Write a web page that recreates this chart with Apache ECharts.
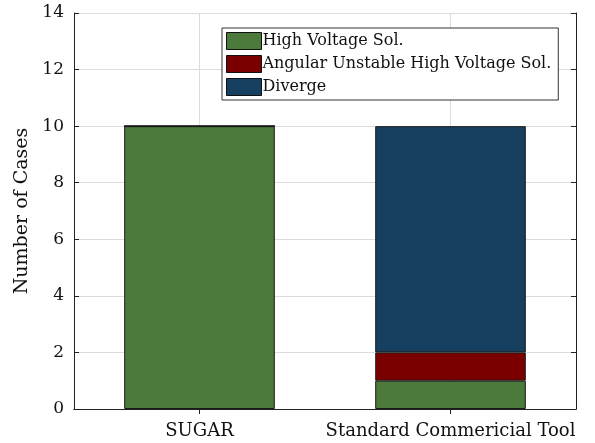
<!DOCTYPE html>
<html><head><meta charset="utf-8">
<script src="https://cdn.jsdelivr.net/npm/echarts@6/dist/echarts.min.js"></script>
<style>html,body{margin:0;padding:0;background:#fff}#c{width:595px;height:443px}</style>
</head><body><div id="c"></div>
<script>
const categories = ['SUGAR', 'Standard Commericial Tool'];
const seriesNames = ['High Voltage Sol.', 'Angular Unstable High Voltage Sol.', 'Diverge'];
const highVoltage = [10, 1];
const angularUnstable = [0, 1];
const diverge = [0, 8];
const yTicks = [0, 2, 4, 6, 8, 10, 12, 14];

const colors = ['#4b7a3a', '#7a0000', '#173f5f'];
const font = 'DejaVu Serif';
const chart = echarts.init(document.getElementById('c'));
const vals = [highVoltage, angularUnstable, diverge];
chart.setOption({
  animation: false,
  grid: {left: 74, right: 19, top: 13, bottom: 34, containLabel: false},
  legend: {
    orient: 'vertical', left: 222, top: 28, data: seriesNames, icon: 'rect',
    itemWidth: 35, itemHeight: 17, itemGap: 5,
    borderColor: '#333', borderWidth: 1, backgroundColor: '#fff', padding: [4, 7, 4, 4],
    textStyle: {fontFamily: font, fontSize: 16, color: '#111', padding: [0, 0, 0, -4]},
    itemStyle: {borderColor: '#111', borderWidth: 1}
  },
  xAxis: [{
    type: 'category', data: categories, position: 'bottom',
    axisLine: {lineStyle: {color: '#222', width: 1}},
    axisTick: {show: true, inside: true, alignWithLabel: true, length: 5, lineStyle: {color: '#222'}},
    axisLabel: {fontFamily: font, fontSize: 18, color: '#111', margin: 13, interval: 0},
    splitLine: {show: false}
  }, {
    type: 'category', data: ['', '', '', '', ''], position: 'top', boundaryGap: false,
    axisLine: {show: true, lineStyle: {color: '#222', width: 1}},
    axisTick: {show: true, inside: true, length: 5, interval: (i) => i === 1 || i === 3, lineStyle: {color: '#222'}},
    axisLabel: {show: false},
    splitLine: {show: true, interval: (i) => i === 1 || i === 3, lineStyle: {color: '#dcdcdc', width: 1}}
  }],
  yAxis: [{
    type: 'value', min: yTicks[0], max: yTicks[yTicks.length - 1], interval: 2,
    axisLine: {show: true, lineStyle: {color: '#222', width: 1}},
    axisTick: {show: true, inside: true, length: 5, lineStyle: {color: '#222'}},
    axisLabel: {fontFamily: font, fontSize: 17, color: '#111', margin: 10},
    splitLine: {show: true, lineStyle: {color: '#dcdcdc', width: 1}},
    name: 'Number of Cases', nameLocation: 'middle', nameGap: 42,
    nameTextStyle: {fontFamily: font, fontSize: 19, color: '#111'}
  }, {
    type: 'value', min: yTicks[0], max: yTicks[yTicks.length - 1], interval: 2, position: 'right',
    axisLine: {show: true, lineStyle: {color: '#222', width: 1}},
    axisTick: {show: true, inside: true, length: 5, lineStyle: {color: '#222'}},
    axisLabel: {show: false}, splitLine: {show: false}
  }],
  series: seriesNames.map((n, i) => ({
    name: n, type: 'bar', stack: 'total', xAxisIndex: 0, yAxisIndex: 0,
    data: vals[i], barWidth: '60%',
    itemStyle: {color: colors[i], borderColor: '#1a1a1a', borderWidth: 1}
  }))
});
</script></body></html>
